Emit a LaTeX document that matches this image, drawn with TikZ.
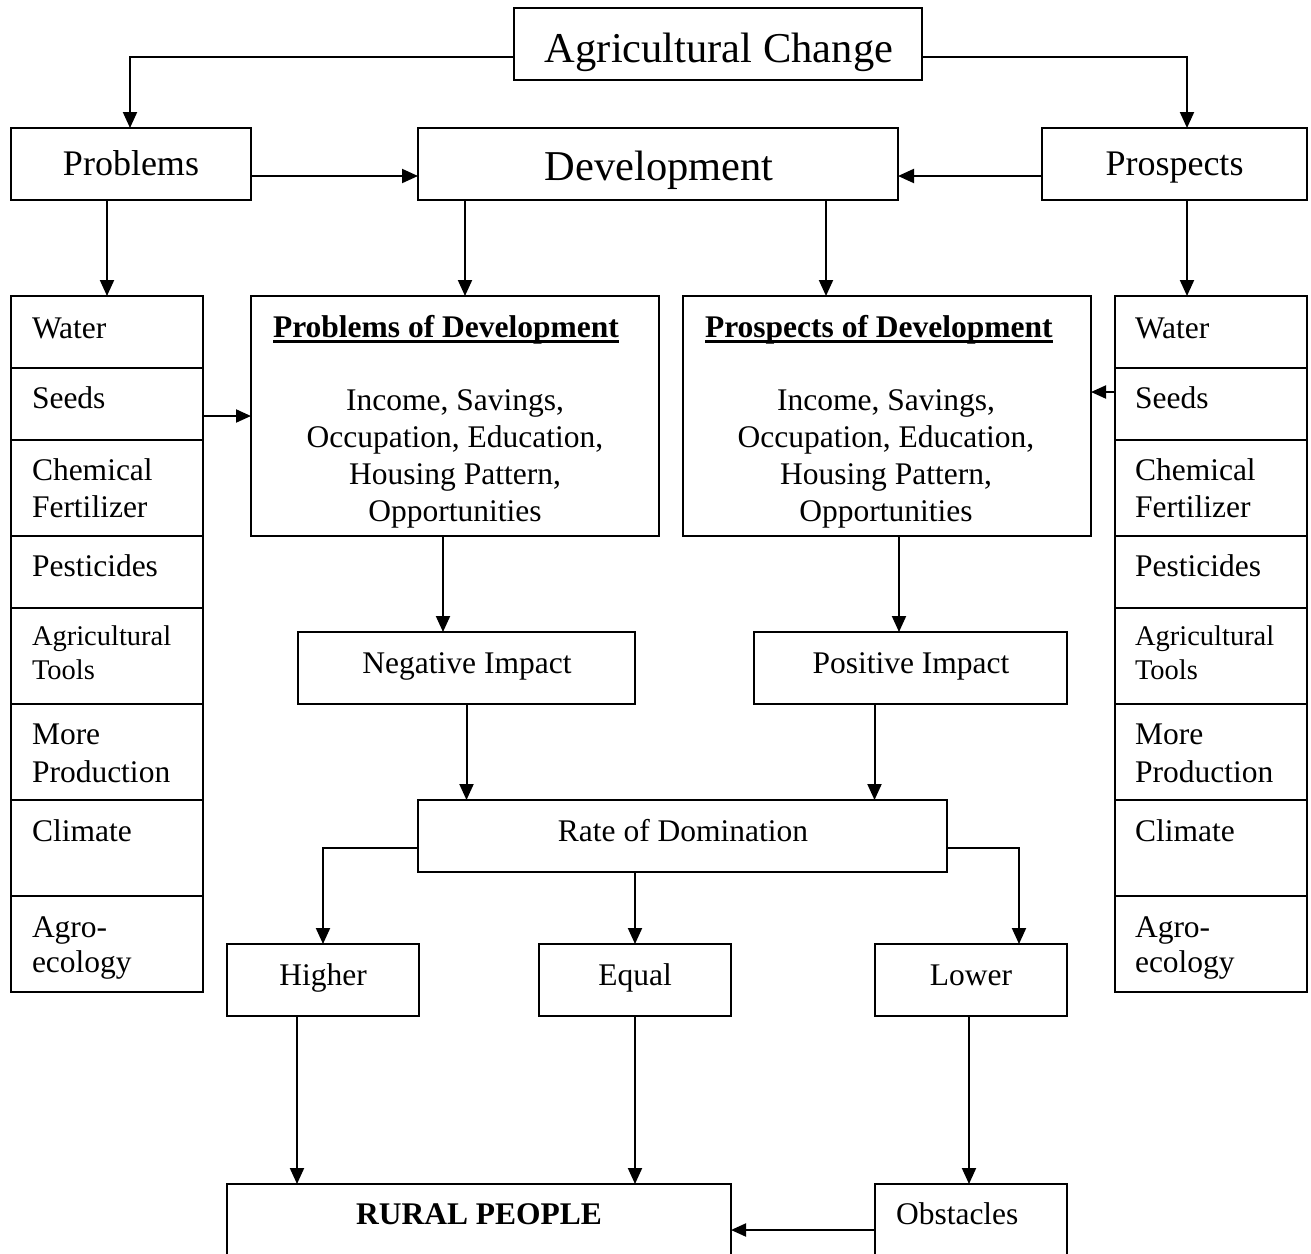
\documentclass[tikz,border=0pt]{standalone}
\usepackage{fontspec}
\setmainfont{Liberation Serif}
\usetikzlibrary{arrows.meta,calc}
\newcommand\bx[5]{\node[box,minimum width={(#4-#2)*1pt},minimum height={(#5-#3)*1pt}] (#1) at ({(#2+#4)/2},{(#3+#5)/2}) {};}
\begin{document}
\begin{tikzpicture}[x=1pt,y=-1pt,
  box/.style={draw,line width=2pt,inner sep=0pt,outer sep=0pt},
  t/.style={inner sep=0pt,outer sep=0pt,font=\fontsize{31.5}{37}\selectfont},
  tb/.style={inner sep=0pt,outer sep=0pt,font=\fontsize{31.5}{37}\selectfont\bfseries},
  ts/.style={inner sep=0pt,outer sep=0pt,font=\fontsize{28.5}{34}\selectfont},
  tm/.style={inner sep=0pt,outer sep=0pt,font=\fontsize{36}{42}\selectfont},
  tl/.style={inner sep=0pt,outer sep=0pt,font=\fontsize{42.5}{50}\selectfont},
  arr/.style={line width=2pt,-{Triangle[length=16pt,width=14pt]}},
  arrs/.style={line width=2pt,-{Triangle[length=15pt,width=13pt]}},
]
\useasboundingbox (0,0) rectangle (1311,1253);
\clip (0,0) rectangle (1311,1253);
\fill[white] (0,0) rectangle (1311,1253);

% boxes
\bx{ag}{514}{8}{922}{80}
\bx{prob}{11}{128}{251}{200}
\bx{dev}{418}{128}{898}{200}
\bx{pros}{1042}{128}{1307}{200}
\bx{pod}{251}{296}{659}{536}
\bx{prd}{683}{296}{1091}{536}
\bx{neg}{298}{632}{635}{704}
\bx{pos}{754}{632}{1067}{704}
\bx{rod}{418}{800}{947}{872}
\bx{hi}{227}{944}{419}{1016}
\bx{eq}{539}{944}{731}{1016}
\bx{lo}{875}{944}{1067}{1016}
\bx{rp}{227}{1184}{731}{1290}
\bx{obs}{875}{1184}{1067}{1290}
\foreach \i/\a/\b in {1/296/368,2/368/440,3/440/536,4/536/608,5/608/704,6/704/800,7/800/896,8/896/992}{
  \bx{lc\i}{11}{\a}{203}{\b}
  \bx{rc\i}{1115}{\a}{1307}{\b}
}

% texts
\node[tl,anchor=base] (agt) at (719,62) {Agricultural Change};
\node[tm,anchor=base] (probt) at (131,175) {Problems};
\node[tl,anchor=base] (devt) at (659,180) {Development};
\node[tm,anchor=base] (prost) at (1174.5,175) {Prospects};

\foreach \s/\x in {l/32,r/1135}{
  \node[t,anchor=base west] (\s t1) at (\x,338) {Water};
  \node[t,anchor=base west] (\s t2) at (\x,408) {Seeds};
  \node[t,anchor=base west] (\s t3a) at (\x,480) {Chemical};
  \node[t,anchor=base west] (\s t3b) at (\x,517) {Fertilizer};
  \node[t,anchor=base west] (\s t4) at (\x,576) {Pesticides};
  \node[ts,anchor=base west] (\s t5a) at (\x,645) {Agricultural};
  \node[ts,anchor=base west] (\s t5b) at (\x,679) {Tools};
  \node[t,anchor=base west] (\s t6a) at (\x,744) {More};
  \node[t,anchor=base west] (\s t6b) at (\x,782) {Production};
  \node[t,anchor=base west] (\s t7) at (\x,841) {Climate};
  \node[t,anchor=base west] (\s t8a) at (\x,937) {Agro-};
  \node[t,anchor=base west] (\s t8b) at (\x,972) {ecology};
}

\node[tb,anchor=base west] (podt) at (273,337) {Problems of Development};
\node[tb,anchor=base west] (prdt) at (705,337) {Prospects of Development};
\draw[line width=2.2pt] ($(podt.base west)+(0,4.5)$) -- ($(podt.base east)+(0,4.5)$);
\draw[line width=2.2pt] ($(prdt.base west)+(0,4.5)$) -- ($(prdt.base east)+(0,4.5)$);
\foreach \s/\x in {a/455,b/886}{
  \node[t,anchor=base] (\s b1) at (\x,410) {Income, Savings,};
  \node[t,anchor=base] (\s b2) at (\x,447) {Occupation, Education,};
  \node[t,anchor=base] (\s b3) at (\x,484) {Housing Pattern,};
  \node[t,anchor=base] (\s b4) at (\x,521) {Opportunities};
}

\node[t,anchor=base] (negt) at (467,673) {Negative Impact};
\node[t,anchor=base] (post) at (911,673) {Positive Impact};
\node[t,anchor=base] (rodt) at (683,841) {Rate of Domination};
\node[t,anchor=base] (hit) at (323,985) {Higher};
\node[t,anchor=base] (eqt) at (635,985) {Equal};
\node[t,anchor=base] (lot) at (971,985) {Lower};
\node[tb,anchor=base] (rpt) at (479,1224) {RURAL PEOPLE};
\node[t,anchor=base west] (obst) at (896,1224) {Obstacles};

% connectors
\draw[arr] ($(ag.west)+(0,12.5)$) -| ($(prob.north)+(-1,0)$);
\draw[arr] ($(ag.east)+(0,12.5)$) -| ($(pros.north)+(12.5,0)$);
\draw[arr] ($(prob.east)+(0,12)$) -- ($(dev.west)+(0,12)$);
\draw[arr] ($(pros.west)+(0,12)$) -- ($(dev.east)+(0,12)$);
\draw[arr] (prob.south -| lc1.north) -- (lc1.north);
\coordinate (c1) at ($(pod.north)+(10,0)$);
\draw[arr] (dev.south -| c1) -- (c1);
\coordinate (c2) at ($(prd.north)+(-61,0)$);
\draw[arr] (dev.south -| c2) -- (c2);
\coordinate (c3) at ($(rc1.north)+(-24,0)$);
\draw[arr] (pros.south -| c3) -- (c3);
\coordinate (c4) at ($(lc2.east)+(0,12)$);
\draw[arrs] (c4) -- (pod.west |- c4);
\coordinate (c5) at ($(rc2.west)+(0,-12)$);
\draw[arrs] (c5) -- (prd.east |- c5);
\coordinate (c6) at ($(pod.south)+(-12,0)$);
\draw[arr] (c6) -- (c6 |- neg.north);
\coordinate (c7) at ($(prd.south)+(12,0)$);
\draw[arr] (c7) -- (c7 |- pos.north);
\draw[arr] (neg.south) -- (neg.south |- rod.north);
\coordinate (c8) at ($(pos.south)+(-36,0)$);
\draw[arr] (c8) -- (c8 |- rod.north);
\draw[arr] ($(rod.west)+(0,12)$) -| (hi.north);
\draw[arr] (rod.south -| eq.north) -- (eq.north);
\draw[arr] ($(rod.east)+(0,12)$) -| ($(lo.north)+(48,0)$);
\coordinate (c9) at ($(hi.south)+(-26,0)$);
\draw[arr] (c9) -- (c9 |- rp.north);
\draw[arr] (eq.south) -- (eq.south |- rp.north);
\coordinate (c10) at ($(lo.south)+(-2,0)$);
\draw[arr] (c10) -- (c10 |- obs.north);
\coordinate (c11) at ($(obs.north west)+(0,46)$);
\draw[arrs] (c11) -- (rp.east |- c11);
\end{tikzpicture}
\end{document}
